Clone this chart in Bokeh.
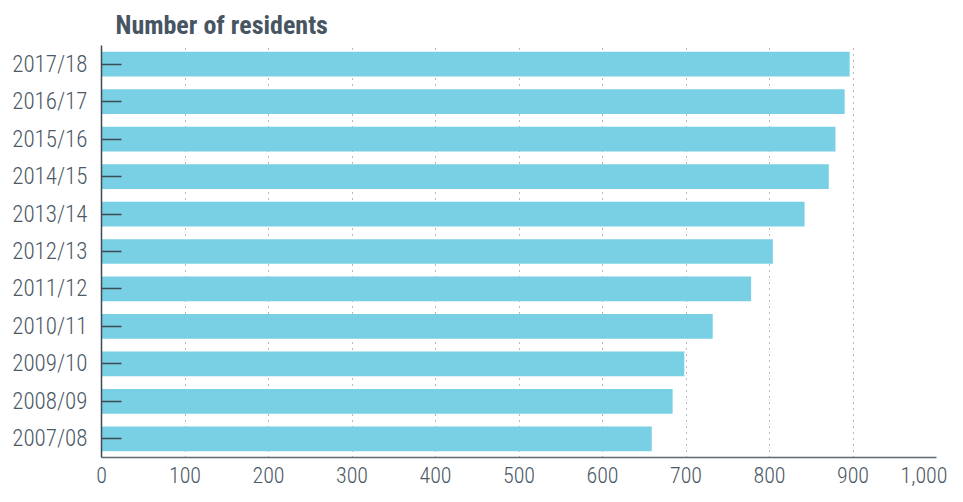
from bokeh.plotting import figure
from bokeh.models import FactorRange, Range1d, NumeralTickFormatter, FixedTicker
from bokeh.embed import file_html
from bokeh.resources import INLINE

years = ["2007/08", "2008/09", "2009/10", "2010/11", "2011/12", "2012/13",
         "2013/14", "2014/15", "2015/16", "2016/17", "2017/18"]
residents = [659, 684, 698, 732, 778, 804, 842, 871, 879, 890, 896]
x_ticks = [0, 100, 200, 300, 400, 500, 600, 700, 800, 900, 1000]

FONT = "Roboto Condensed"
LABEL_FONT = "Roboto Condensed Light"
TEXT = "#4c5966"

p = figure(width=947, height=486,
           y_range=FactorRange(factors=years),
           x_range=Range1d(0, 1000),
           output_backend="svg", toolbar_location=None,
           title="Number of residents",
           min_border_left=101, min_border_right=11,
           min_border_top=45, min_border_bottom=29)

p.hbar(y=years, right=residents, left=0, height=0.66,
       fill_color="#79d0e4", line_color=None)

p.outline_line_color = None
p.background_fill_color = "white"
p.border_fill_color = "white"

p.title.text_font = FONT
p.title.text_font_style = "bold"
p.title.text_font_size = "26px"
p.title.text_color = "#475563"
p.title.align = "left"
p.title.offset = 14
p.title.standoff = 12

p.xaxis.ticker = FixedTicker(ticks=x_ticks)
p.xaxis.formatter = NumeralTickFormatter(format="0,0")
p.xaxis.major_tick_line_color = None
p.xaxis.minor_tick_line_color = None
p.xaxis.axis_line_color = "#5d6873"
p.xaxis.axis_line_width = 1.5
p.xaxis.major_label_text_font = LABEL_FONT
p.xaxis.major_label_text_font_size = "22px"
p.xaxis.major_label_text_color = TEXT
p.xaxis.major_label_standoff = 3

p.yaxis.axis_line_color = "#3f4a55"
p.yaxis.axis_line_width = 1.5
p.yaxis.major_tick_line_color = "#3f4a55"
p.yaxis.major_tick_line_width = 1.5
p.yaxis.major_tick_in = 20
p.yaxis.major_tick_out = 0
p.yaxis.major_label_text_font = LABEL_FONT
p.yaxis.major_label_text_font_size = "23px"
p.yaxis.major_label_text_color = TEXT
p.yaxis.major_label_standoff = 14

p.xgrid.grid_line_color = "#6f777f"
p.xgrid.grid_line_dash = "1 5"
p.xgrid.grid_line_width = 1
p.ygrid.grid_line_color = None

open("out.html", "w").write(file_html(p, INLINE))
